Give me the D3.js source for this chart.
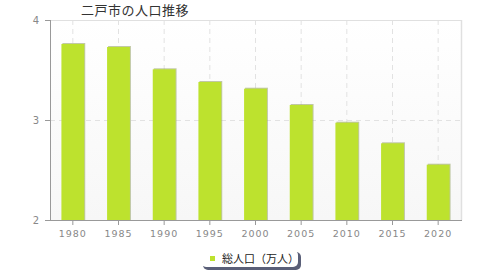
<!DOCTYPE html>
<html>
<head>
<meta charset="utf-8">
<script src="https://cdn.jsdelivr.net/npm/d3@7"></script>
<style>
  body { margin: 0; background: #fff; }
  text { font-family: "Noto Sans CJK JP", "DejaVu Sans", sans-serif; }
</style>
</head>
<body>
<div id="chart"></div>
<script>
var years = ["1980", "1985", "1990", "1995", "2000", "2005", "2010", "2015", "2020"];
var population = [3.76, 3.73, 3.507, 3.38, 3.313, 3.15, 2.973, 2.767, 2.553];
var yTicks = [2, 3, 4];
var title = "二戸市の人口推移";
var seriesName = "総人口（万人）";

var width = 480, height = 280;
var margin = { top: 20, right: 19, bottom: 60, left: 50 };
var w = width - margin.left - margin.right;
var h = height - margin.top - margin.bottom;

var svg = d3.select("#chart").append("svg")
  .attr("width", width).attr("height", height);

var defs = svg.append("defs");
var grad = defs.append("linearGradient").attr("id", "bg")
  .attr("x1", 0).attr("y1", 0).attr("x2", 0).attr("y2", 1);
grad.append("stop").attr("offset", "0%").attr("stop-color", "#ffffff");
grad.append("stop").attr("offset", "100%").attr("stop-color", "#f7f7f7");

var xScale = d3.scaleBand().domain(years).range([0, w]).padding(0);
var yScale = d3.scaleLinear().domain([2, 4]).range([h, 0]);

var g = svg.append("g").attr("transform", "translate(" + margin.left + "," + margin.top + ")");

g.append("rect").attr("width", w).attr("height", h).attr("fill", "url(#bg)");

// grid
g.selectAll(".vgrid").data(years).enter().append("line")
  .attr("x1", function (d) { return xScale(d) + xScale.bandwidth() / 2; })
  .attr("x2", function (d) { return xScale(d) + xScale.bandwidth() / 2; })
  .attr("y1", 0).attr("y2", h)
  .attr("stroke", "#e2e2e2").attr("stroke-dasharray", "5,4");
g.selectAll(".hgrid").data([3]).enter().append("line")
  .attr("x1", 0).attr("x2", w)
  .attr("y1", function (d) { return yScale(d) + 0.5; })
  .attr("y2", function (d) { return yScale(d) + 0.5; })
  .attr("stroke", "#e2e2e2").attr("stroke-dasharray", "5,4");

// top / right border
g.append("line").attr("x1", 0).attr("x2", w).attr("y1", 0.5).attr("y2", 0.5).attr("stroke", "#e0e0e0");
g.append("line").attr("x1", w + 0.5).attr("x2", w + 0.5).attr("y1", 0).attr("y2", h).attr("stroke", "#e0e0e0").attr("stroke-width", 1.5);

var barW = xScale.bandwidth() * 0.5;
// bar shadows
g.selectAll(".shadow").data(population).enter().append("rect")
  .attr("x", function (d, i) { return xScale(years[i]) + (xScale.bandwidth() - barW) / 2 + 1; })
  .attr("y", function (d) { return yScale(d) - 1; })
  .attr("width", barW)
  .attr("height", function (d) { return h - yScale(d) + 1; })
  .attr("fill", "#9aa56a").attr("opacity", 0.6);
g.selectAll(".bar").data(population).enter().append("rect")
  .attr("x", function (d, i) { return xScale(years[i]) + (xScale.bandwidth() - barW) / 2; })
  .attr("y", function (d) { return yScale(d); })
  .attr("width", barW)
  .attr("height", function (d) { return h - yScale(d); })
  .attr("fill", "#bde22e");

// axes
var leftAxis = d3.axisLeft(yScale).tickValues(yTicks).tickSize(5).tickPadding(6).tickFormat(d3.format("d"));
var ya = g.append("g").call(leftAxis);
ya.select(".domain").attr("stroke", "#999").attr("d", "M0.5,0V" + h);
ya.selectAll(".tick line").attr("stroke", "#999");
ya.selectAll("text").attr("fill", "#888").style("font-family", "DejaVu Sans, sans-serif").style("font-size", "10px");

var bottomAxis = d3.axisBottom(xScale).tickSize(5).tickPadding(5);
var xa = g.append("g").attr("transform", "translate(0," + h + ")").call(bottomAxis);
xa.select(".domain").attr("stroke", "#999").attr("d", "M0," + 0.5 + "H" + (w + 1));
xa.selectAll(".tick line").attr("stroke", "#999");
xa.selectAll("text").attr("fill", "#888").style("font-family", "DejaVu Sans, sans-serif")
  .style("font-size", "9.5px").style("letter-spacing", "1px");

// title
svg.append("text").attr("x", 81).attr("y", 15)
  .attr("fill", "#333").style("font-size", "13px").style("letter-spacing", "0.5px").text(title);

// legend
var lg = svg.append("g").attr("transform", "translate(201,250)");
lg.append("rect").attr("x", 2).attr("y", 2).attr("width", 98).attr("height", 18).attr("rx", 5)
  .attr("fill", "#5a5f78");
lg.append("rect").attr("x", 0).attr("y", 0).attr("width", 97).attr("height", 17).attr("rx", 5)
  .attr("fill", "#fff");
lg.append("rect").attr("x", 9).attr("y", 6).attr("width", 5).attr("height", 5).attr("fill", "#bde22e");
lg.append("text").attr("x", 21).attr("y", 12.5).attr("fill", "#222")
  .style("font-size", "11px").text(seriesName);
</script>
</body>
</html>
